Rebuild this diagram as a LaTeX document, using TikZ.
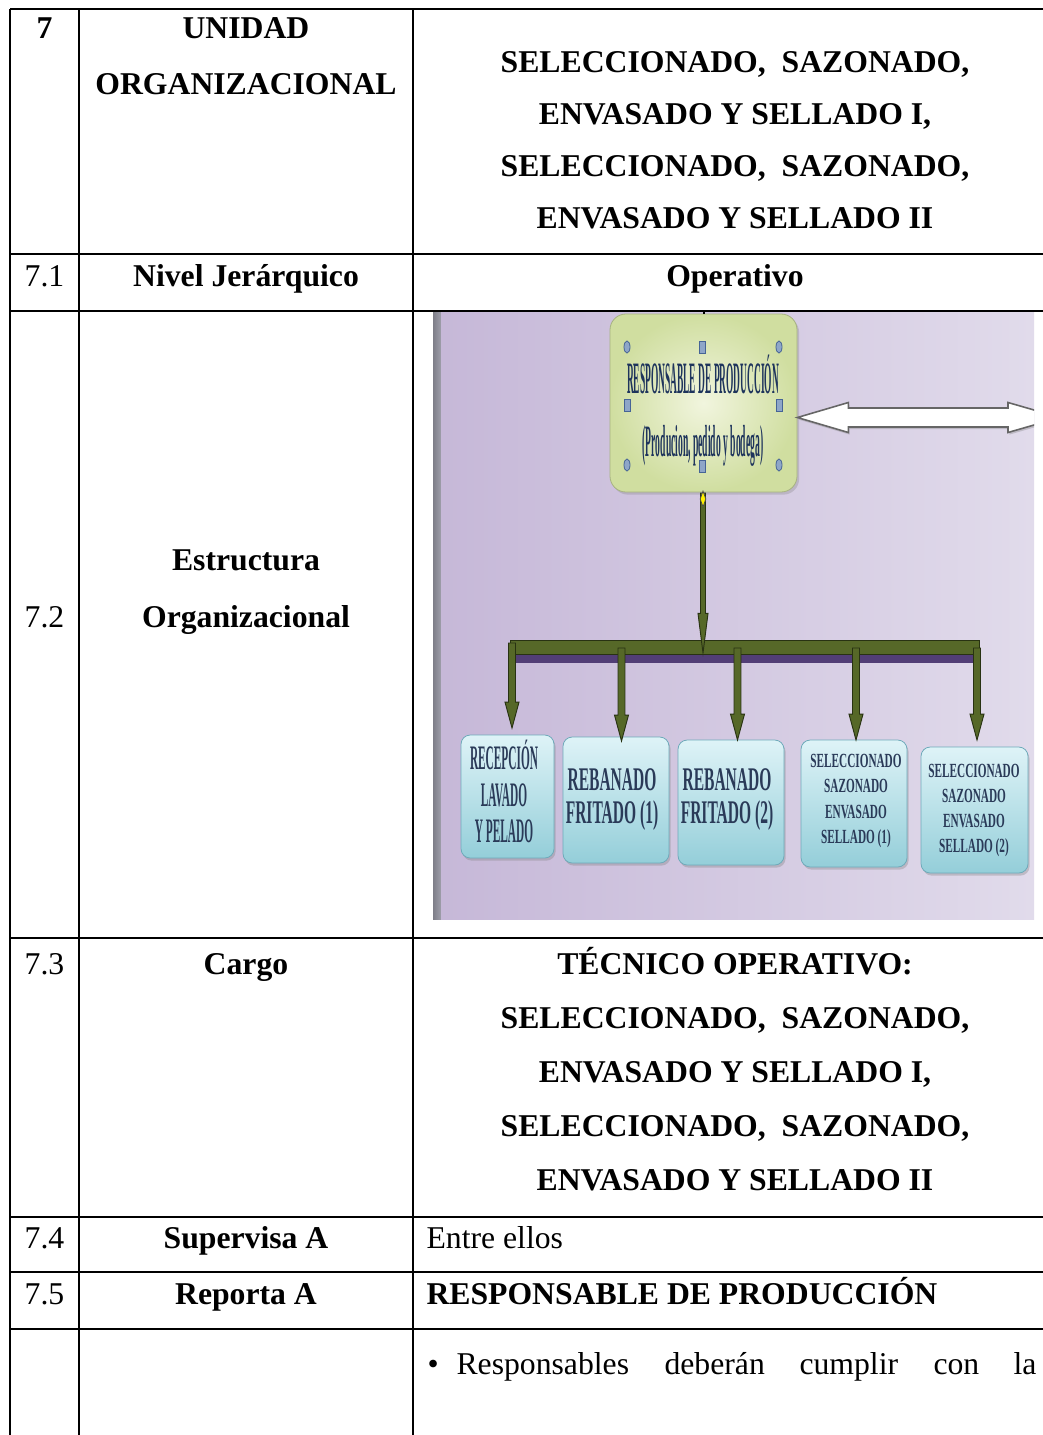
\documentclass[tikz,border=0pt]{standalone}
\usepackage{fontspec}
\setmainfont{Liberation Serif}
\usepackage{graphicx}
\usetikzlibrary{calc,shadows,shapes.geometric}

% one pixel of the page grid
\newcommand\pxu{0.3785pt}
% condensed bold lettering used inside the chart boxes
\newcommand\squeeze[4]{\scalebox{#1}[1]{\fontsize{#2}{#3}\selectfont\bfseries\begin{tabular}{@{}c@{}}#4\end{tabular}}}
% vertical block arrow: from, tip, half shaft, half head, head length
\newcommand\downblock[5]{%
  \path[blockarrow] let \p1=(#1), \p2=(#2) in
    (\x1-#3,\y1) -- (\x1-#3,\y2+#5) -- (\x1-#4,\y2+#5) -- (\x1,\y2)
    -- (\x1+#4,\y2+#5) -- (\x1+#3,\y2+#5) -- (\x1+#3,\y1) -- cycle;}

\definecolor{lavL}{RGB}{198,184,216}
\definecolor{lavR}{RGB}{225,219,235}
\definecolor{stripgray}{RGB}{158,158,170}
\definecolor{topIn}{RGB}{241,245,222}
\definecolor{topOut}{RGB}{208,222,160}
\definecolor{cyanTop}{RGB}{222,243,247}
\definecolor{cyanBot}{RGB}{148,206,217}
\definecolor{cyanEdge}{RGB}{110,170,186}
\definecolor{olive}{RGB}{86,104,40}
\definecolor{oliveEdge}{RGB}{40,50,18}
\definecolor{barPurple}{RGB}{82,62,118}
\definecolor{navy}{RGB}{30,52,92}
\definecolor{slate}{RGB}{42,58,88}
\definecolor{handleFill}{RGB}{142,166,200}
\definecolor{handleEdge}{RGB}{70,100,150}

\begin{document}
\begin{tikzpicture}[x=0.3785pt,y=-0.3785pt,
  rule/.style={line width=0.76pt,black},
  cell/.style={inner sep=0pt,anchor=base,font=\fontsize{12}{14}\selectfont},
  cellb/.style={cell,font=\fontsize{12}{14}\selectfont\bfseries},
  cellw/.style={cell,anchor=base west},
  cellbw/.style={cellb,anchor=base west},
  topbox/.style={rectangle,rounded corners=6pt,inner color=topIn,outer color=topOut,
    draw=topOut!80!black,line width=0.3pt,
    drop shadow={opacity=0.3,shadow xshift=0.8pt,shadow yshift=-1pt}},
  lowbox/.style={rectangle,rounded corners=3.5pt,top color=cyanTop,bottom color=cyanBot,
    draw=cyanEdge,line width=0.3pt,
    drop shadow={opacity=0.35,shadow xshift=0.6pt,shadow yshift=-1pt}},
  boxtext/.style={inner sep=0pt,text=slate},
  blockarrow/.style={fill=olive,draw=oliveEdge,line width=0.35pt},
  hcirc/.style={ellipse,fill=handleFill,draw=handleEdge,line width=0.3pt,inner sep=0pt,
    minimum width=6*\pxu,minimum height=12*\pxu},
  hsq/.style={rectangle,fill=handleFill,draw=handleEdge,line width=0.3pt,inner sep=0pt,
    minimum width=6*\pxu,minimum height=12*\pxu},
]
\useasboundingbox (0,0) rectangle (1043,1435);

% ---- table rules ----
\foreach \xx in {10,79,413} \draw[rule] (\xx,9) -- (\xx,1435);
\foreach \yy in {9,254,311,938,1217,1272,1329} \draw[rule] (10,\yy) -- (1043,\yy);

% ---- row 7 ----
\node[cellb] (n7) at (44.5,39) {7};
\node[cellb] (unidad) at (246,39) {UNIDAD};
\node[cellb] (organiz) at (246,94) {ORGANIZACIONAL};
\node[cellb] (u1) at (735,72) {SELECCIONADO,\ \ SAZONADO,};
\node[cellb] (u2) at (735,124) {ENVASADO Y SELLADO I,};
\node[cellb] (u3) at (735,176) {SELECCIONADO,\ \ SAZONADO,};
\node[cellb] (u4) at (735,228) {ENVASADO Y SELLADO II};

% ---- row 7.1 ----
\node[cell] (n71) at (44.5,286) {7.1};
\node[cellb] (nivel) at (246,286) {Nivel Jerárquico};
\node[cellb] (operativo) at (735,286) {Operativo};

% ---- row 7.2 ----
\node[cell] (n72) at (44.5,627) {7.2};
\node[cellb] (estr) at (246,570) {Estructura};
\node[cellb] (orgz) at (246,627) {Organizacional};

% ---- organisation chart ----
\fill[left color=stripgray!80!black,right color=stripgray] (433,312) rectangle (441,919);
\begin{scope}
  \clip (441,312) rectangle (1034,919);
  \fill[left color=lavL,right color=lavR] (441,312) rectangle (1034,919);

  % head of the chart
  \node[topbox,minimum width=187*\pxu,minimum height=178*\pxu] (head) at (703.5,403) {};
  \coordinate (headtop) at (704,311);
  \draw[line width=0.4pt] (headtop) -- (head.north -| headtop);
  \node[boxtext,text=navy] (headt1) at (703,382)
    {\squeeze{0.21}{17}{19}{RESPONSABLE DE PRODUCCIÓN}};
  \node[boxtext,text=navy] (headt2) at (703,446)
    {\squeeze{0.214}{17}{19}{(Producion, pedido y bodega)}};
  % selection handles
  \node[hcirc] (hc1) at (627,347) {};
  \node[hcirc] (hc2) at (779,347) {};
  \node[hcirc] (hc3) at (627,465) {};
  \node[hcirc] (hc4) at (779,465) {};
  \node[hsq] (hs1) at (702.5,347) {};
  \node[hsq] (hs2) at (627,405) {};
  \node[hsq] (hs3) at (779,405) {};
  \node[hsq] (hs4) at (702.5,466) {};

  % white double block arrow to the right
  \coordinate (dblR) at (1060,417.5);
  \path[fill=white,draw=gray!80!black,line width=0.6pt,
        drop shadow={opacity=0.35,shadow xshift=0.5pt,shadow yshift=-0.8pt}]
    let \p1=(head.east |- dblR), \p2=(dblR) in
    (\p1) -- (\x1+51*\pxu,\y1+15*\pxu) -- (\x1+51*\pxu,\y1+9.5*\pxu)
    -- (\x2-52*\pxu,\y1+9.5*\pxu) -- (\x2-52*\pxu,\y1+15*\pxu) -- (\p2)
    -- (\x2-52*\pxu,\y1-15*\pxu) -- (\x2-52*\pxu,\y1-9.5*\pxu)
    -- (\x1+51*\pxu,\y1-9.5*\pxu) -- (\x1+51*\pxu,\y1-15*\pxu) -- cycle;

  % distribution bar
  \node[rectangle,fill=olive,draw=oliveEdge,line width=0.3pt,inner sep=0pt,anchor=north west,
        minimum width=469*\pxu,minimum height=14*\pxu] (bar) at (510,640) {};
  \fill[barPurple] (bar.south west) rectangle ++(469,8);

  % connector from the head down to the bar
  \coordinate (mainTop) at (703,493);
  \coordinate (mainTip) at (703,653);
  \downblock{mainTop}{mainTip}{0.95pt}{1.9pt}{15pt}
  \node[diamond,fill=yellow,draw=black!70,line width=0.3pt,inner sep=0pt,
        minimum width=6*\pxu,minimum height=16*\pxu] (adj) at (703,499) {};

  % the five units
  \node[lowbox,minimum width=93*\pxu,minimum height=123*\pxu] (b1) at (507.5,796.5) {};
  \node[lowbox,minimum width=106*\pxu,minimum height=126*\pxu] (b2) at (616,800) {};
  \node[lowbox,minimum width=106*\pxu,minimum height=125*\pxu] (b3) at (731,802.5) {};
  \node[lowbox,minimum width=106*\pxu,minimum height=127*\pxu] (b4) at (854,803.5) {};
  \node[lowbox,minimum width=107*\pxu,minimum height=126*\pxu] (b5) at (974.5,810) {};

  \node[boxtext] (b1t) at (504,797) {\squeeze{0.33}{13}{13.8}{RECEPCIÓN\\LAVADO\\Y PELADO}};
  \node[boxtext] (b2t) at (612,800) {\squeeze{0.47}{12.5}{12.6}{REBANADO\\FRITADO (1)}};
  \node[boxtext] (b3t) at (727,800) {\squeeze{0.47}{12.5}{12.6}{REBANADO\\FRITADO (2)}};
  \node[boxtext] (b4t) at (856,800.5) {\squeeze{0.56}{7.6}{9.5}{SELECCIONADO\\SAZONADO\\ENVASADO\\SELLADO (1)}};
  \node[boxtext] (b5t) at (974,810) {\squeeze{0.56}{7.6}{9.5}{SELECCIONADO\\SAZONADO\\ENVASADO\\SELLADO (2)}};

  % arrows from the bar to each unit
  \coordinate (a1) at (512,643);   \coordinate (a1tip) at (512,728);
  \coordinate (a2) at (621.5,648); \coordinate (a2tip) at (621.5,741);
  \coordinate (a3) at (737.5,648); \coordinate (a3tip) at (737.5,740);
  \coordinate (a4) at (856,648);   \coordinate (a4tip) at (856,740);
  \coordinate (a5) at (977,648);   \coordinate (a5tip) at (977,740);
  \foreach \k in {1,...,5} {\downblock{a\k}{a\k tip}{1.32pt}{2.65pt}{9.8pt}}
\end{scope}

% ---- row 7.3 ----
\node[cell] (n73) at (44.5,974) {7.3};
\node[cellb] (cargo) at (246,974) {Cargo};
\node[cellb] (c1) at (735,974) {TÉCNICO OPERATIVO:};
\node[cellb] (c2) at (735,1028) {SELECCIONADO,\ \ SAZONADO,};
\node[cellb] (c3) at (735,1082) {ENVASADO Y SELLADO I,};
\node[cellb] (c4) at (735,1136) {SELECCIONADO,\ \ SAZONADO,};
\node[cellb] (c5) at (735,1190) {ENVASADO Y SELLADO II};

% ---- row 7.4 ----
\node[cell] (n74) at (44.5,1248) {7.4};
\node[cellb] (superv) at (246,1248) {Supervisa A};
\node[cellw] (entre) at (426,1248) {Entre ellos};

% ---- row 7.5 ----
\node[cell] (n75) at (44.5,1304) {7.5};
\node[cellb] (reporta) at (246,1304) {Reporta A};
\node[cellbw] (resp) at (426,1304) {RESPONSABLE DE PRODUCCIÓN};

% ---- last row ----
\node[cellw] (bullet) at (427,1374) {•};
\node[cellw] (w1) at (456,1374) {Responsables};
\node[cellw] (w2) at (664,1374) {deberán};
\node[cellw] (w3) at (799,1374) {cumplir};
\node[cellw] (w4) at (933,1374) {con};
\node[cell,anchor=base east] (w5) at (1037,1374) {la};
\end{tikzpicture}
\end{document}
